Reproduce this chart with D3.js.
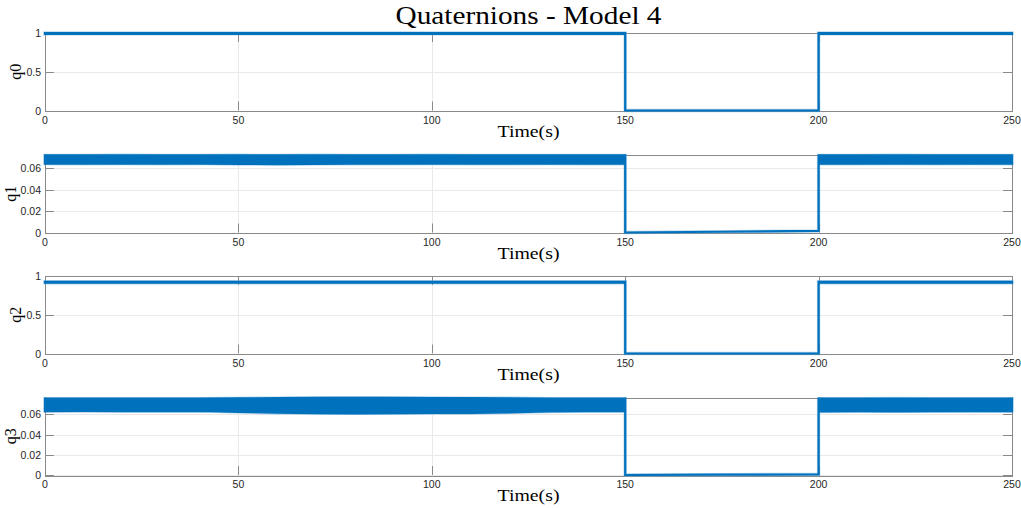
<!DOCTYPE html>
<html>
<head>
<meta charset="utf-8">
<script src="https://cdn.jsdelivr.net/npm/d3@7"></script>
<style>
  html, body { margin: 0; padding: 0; background: #fff; }
  svg { display: block; }
  .tick-label { font-family: "Liberation Sans", Arial, sans-serif; font-size: 10.5px; fill: #262626; }
  .serif { font-family: "Liberation Serif", "DejaVu Serif", serif; fill: #000; }
</style>
</head>
<body>
<div id="chart"></div>
<script>
// ---- data ----
// sample times: envelope of the noisy band, then the "off" stretch 150..200 s
var time = [0, 10, 20, 30, 40, 50, 60, 70, 80, 90, 100, 110, 120, 130, 140, 150,
            150, 175, 200,
            200, 210, 220, 230, 240, 250];

var q0Hi = [1, 1, 1, 1, 1, 1, 1, 1, 1, 1, 1, 1, 1, 1, 1, 1,
            0, 0, 0,
            1, 1, 1, 1, 1, 1];
var q0Lo = [0.989, 0.989, 0.989, 0.989, 0.989, 0.989, 0.989, 0.989, 0.989, 0.989, 0.989, 0.989, 0.989, 0.989, 0.989, 0.989,
            0, 0, 0,
            0.989, 0.989, 0.989, 0.989, 0.989, 0.989];

var q1Hi = [0.0722, 0.0722, 0.0723, 0.0722, 0.0722, 0.0723, 0.0722, 0.0723, 0.0722, 0.0722, 0.0723, 0.0722, 0.0722, 0.0722, 0.0722, 0.0722,
            0, 0.0007, 0.0015,
            0.0722, 0.0722, 0.0723, 0.0722, 0.0722, 0.0722];
var q1Lo = [0.0645, 0.0644, 0.0645, 0.0644, 0.0645, 0.0642, 0.0641, 0.0643, 0.0644, 0.0644, 0.0645, 0.0644, 0.0644, 0.0645, 0.0644, 0.0645,
            0, 0.0007, 0.0015,
            0.0645, 0.0644, 0.0645, 0.0644, 0.0645, 0.0644];

var q2Hi = [0.926, 0.926, 0.926, 0.926, 0.926, 0.926, 0.926, 0.926, 0.926, 0.926, 0.926, 0.926, 0.926, 0.926, 0.926, 0.926,
            0, 0, 0,
            0.926, 0.926, 0.926, 0.926, 0.926, 0.926];
var q2Lo = [0.913, 0.913, 0.913, 0.913, 0.913, 0.913, 0.913, 0.913, 0.913, 0.913, 0.913, 0.913, 0.913, 0.913, 0.913, 0.913,
            0, 0, 0,
            0.913, 0.913, 0.913, 0.913, 0.913, 0.913];

var q3Hi = [0.0754, 0.0754, 0.0755, 0.0754, 0.0754, 0.0757, 0.0760, 0.0762, 0.0763, 0.0762, 0.0761, 0.0760, 0.0758, 0.0755, 0.0754, 0.0754,
            0, 0.0003, 0.0006,
            0.0755, 0.0754, 0.0756, 0.0755, 0.0754, 0.0755];
var q3Lo = [0.0632, 0.0633, 0.0631, 0.0632, 0.0633, 0.0624, 0.0616, 0.0612, 0.0610, 0.0611, 0.0613, 0.0613, 0.0619, 0.0628, 0.0632, 0.0633,
            0, 0.0003, 0.0006,
            0.0628, 0.0630, 0.0629, 0.0630, 0.0631, 0.0630];

var xTicks = [0, 50, 100, 150, 200, 250];
var unitTicks = [0, 0.5, 1];
var smallTicks = [0, 0.02, 0.04, 0.06];

var panels = [
  { label: 'q0', hi: q0Hi, lo: q0Lo, yMax: 1,      ticks: unitTicks,  top: 33 },
  { label: 'q1', hi: q1Hi, lo: q1Lo, yMax: 0.0726, ticks: smallTicks, top: 155 },
  { label: 'q2', hi: q2Hi, lo: q2Lo, yMax: 1,      ticks: unitTicks,  top: 276 },
  { label: 'q3', hi: q3Hi, lo: q3Lo, yMax: 0.0766, ticks: smallTicks, top: 397.5 }
];

// ---- layout ----
var W = 1021, H = 508;
var left = 45, right = 1012, panelH = 77.5;
var lineColor = '#0072BD';
var axisColor = '#8a8a8a';
var gridColor = '#e9e9e9';
var tickLen = 9;

var svg = d3.select('#chart').append('svg').attr('width', W).attr('height', H);

svg.append('text').attr('class', 'serif')
  .attr('x', (left + right) / 2).attr('y', 24)
  .attr('text-anchor', 'middle')
  .attr('textLength', 266).attr('lengthAdjust', 'spacingAndGlyphs')
  .style('font-size', '25px')
  .text('Quaternions - Model 4');

var x = d3.scaleLinear().domain([0, 250]).range([left, right]);

panels.forEach(function(p) {
  var y = d3.scaleLinear().domain([0, p.yMax]).range([p.top + panelH, p.top]);
  var g = svg.append('g');
  var bottom = p.top + panelH;

  // grid
  g.selectAll('.gx').data(xTicks).join('line')
    .attr('x1', function(d) { return Math.round(x(d)) + 0.5; })
    .attr('x2', function(d) { return Math.round(x(d)) + 0.5; })
    .attr('y1', p.top).attr('y2', bottom)
    .attr('stroke', gridColor);
  g.selectAll('.gy').data(p.ticks).join('line')
    .attr('x1', left).attr('x2', right)
    .attr('y1', function(d) { return Math.round(y(d)) + 0.5; })
    .attr('y2', function(d) { return Math.round(y(d)) + 0.5; })
    .attr('stroke', gridColor);

  // ticks, inward on all four sides
  xTicks.forEach(function(t) {
    var xp = Math.round(x(t)) + 0.5;
    g.append('line').attr('x1', xp).attr('x2', xp).attr('y1', bottom).attr('y2', bottom - tickLen).attr('stroke', axisColor);
    g.append('line').attr('x1', xp).attr('x2', xp).attr('y1', p.top).attr('y2', p.top + tickLen).attr('stroke', axisColor);
  });
  p.ticks.forEach(function(t) {
    var yp = Math.round(y(t)) + 0.5;
    g.append('line').attr('x1', left).attr('x2', left + tickLen).attr('y1', yp).attr('y2', yp).attr('stroke', axisColor);
    g.append('line').attr('x1', right).attr('x2', right - tickLen).attr('y1', yp).attr('y2', yp).attr('stroke', axisColor);
  });

  // box
  g.append('rect')
    .attr('x', left + 0.5).attr('y', Math.round(p.top) + 0.5)
    .attr('width', right - left).attr('height', Math.round(panelH))
    .attr('fill', 'none').attr('stroke', axisColor);

  // tick labels
  g.selectAll('.xl').data(xTicks).join('text')
    .attr('class', 'tick-label')
    .attr('x', function(d) { return x(d); })
    .attr('y', bottom + 13)
    .attr('text-anchor', 'middle')
    .text(function(d) { return d; });
  g.selectAll('.yl').data(p.ticks).join('text')
    .attr('class', 'tick-label')
    .attr('x', left - 4)
    .attr('y', function(d) { return y(d) + 4; })
    .attr('text-anchor', 'end')
    .text(function(d) { return d3.format('~g')(d); });

  // series: noisy band drawn as envelope area, with a soft fuzzy rim
  var area = d3.area()
    .x(function(d, i) { return x(time[i]); })
    .y0(function(d, i) { return y(p.lo[i]); })
    .y1(function(d, i) { return y(p.hi[i]); });
  g.append('path')
    .attr('d', area(time))
    .attr('fill', lineColor)
    .attr('stroke', '#5fa3d6')
    .attr('stroke-opacity', 0.45)
    .attr('stroke-width', 3.4);
  g.append('path')
    .attr('d', area(time))
    .attr('fill', lineColor)
    .attr('stroke', lineColor)
    .attr('stroke-width', 2.2)
    .attr('stroke-linejoin', 'miter');

  // axis labels
  g.append('text').attr('class', 'serif')
    .attr('x', (left + right) / 2).attr('y', bottom + 26)
    .attr('text-anchor', 'middle')
    .attr('textLength', 62).attr('lengthAdjust', 'spacingAndGlyphs')
    .style('font-size', '16px')
    .text('Time(s)');
  var lx = p.yMax < 0.5 ? 16 : 21;
  g.append('text').attr('class', 'serif')
    .attr('transform', 'translate(' + lx + ',' + (p.top + panelH / 2) + ') rotate(-90)')
    .attr('text-anchor', 'middle')
    .style('font-size', '16px')
    .text(p.label);
});
</script>
</body>
</html>
